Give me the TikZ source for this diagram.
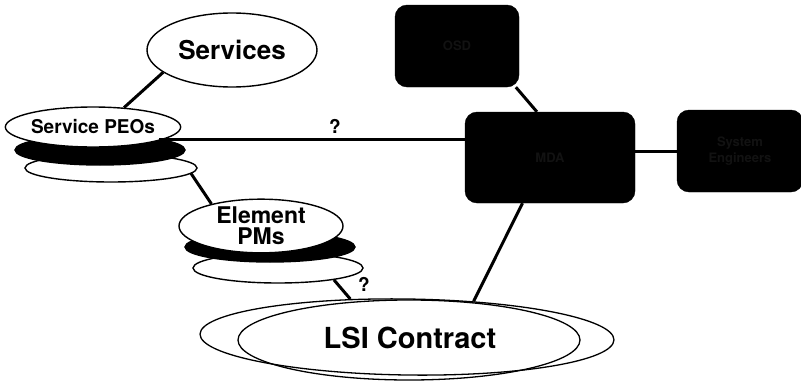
\documentclass[tikz,border=0pt]{standalone}
\usepackage{fontspec}
\setmainfont{TeX Gyre Heros}
\usetikzlibrary{shapes.geometric}

\tikzset{
  oval/.style={ellipse, draw, line width=1.4pt, fill=white, inner sep=0pt,
               font=\bfseries, align=center},
  darkoval/.style={ellipse, draw, line width=1.4pt, fill=black, inner sep=0pt},
  hollow/.style={ellipse, draw, line width=1.3pt, inner sep=0pt},
  darkbox/.style={rectangle, rounded corners=12pt, fill=black, draw=black,
                  text=black!93, font=\bfseries\fontsize{13}{16}\selectfont,
                  align=center},
  link/.style={line width=3pt},
  qmark/.style={font=\bfseries\fontsize{19}{19}\selectfont, inner sep=0pt}
}

\begin{document}
\begin{tikzpicture}[x=1pt,y=-1pt]
  \useasboundingbox (0,0) rectangle (801,383);

  % connector that runs under the PEO stack
  \coordinate (peoexit) at (159,139.5);

  % top-left oval
  \node[oval, minimum width=170pt, minimum height=74pt,
        font=\bfseries\fontsize{26}{28}\selectfont] (services) at (232,50) {Services};

  % stacked ovals for the service PEOs
  \node[oval, minimum width=172pt, minimum height=28pt] (peolow) at (111,168) {};
  \node[darkoval, minimum width=170pt, minimum height=30pt] (peomid) at (100,150) {};
  \node[oval, minimum width=170pt, minimum height=40pt,
        font=\bfseries\fontsize{19}{20}\selectfont] (peo) at (93,127)
        {\raisebox{-6pt}{Service PEOs}};

  % stacked ovals for the element PMs
  \node[oval, minimum width=170pt, minimum height=30pt] (pmlow) at (278,268) {};
  \node[darkoval, minimum width=170pt, minimum height=30pt] (pmmid) at (270,247) {};
  \node[oval, minimum width=164pt, minimum height=52pt,
        font=\bfseries\fontsize{23}{27}\selectfont] (pm) at (261,226)
        {\raisebox{-2pt}{\shortstack{Element\\[1pt]PMs}}};

  % contract ovals
  \node[hollow, minimum width=414pt, minimum height=76pt, rotate=-0.8] (lsiout) at (407,337) {};
  \node[hollow, minimum width=342pt, minimum height=80pt] (lsiin) at (409,340) {};
  \node[font=\bfseries\fontsize{29}{30}\selectfont] (lsitext) at (410,338) {LSI Contract};

  % dark rounded boxes
  \node[darkbox, minimum width=124pt, minimum height=82pt] (top) at (457,46) {OSD};
  \node[darkbox, minimum width=170pt, minimum height=91pt] (hub) at (550,157.5) {MDA};
  \node[darkbox, minimum width=126pt, minimum height=82pt] (sys) at (740,151) {System\\Engineers};

  % connectors
  \draw[link] (services.198) -- (peo.32);
  \draw[link] (peoexit) -- (peoexit -| hub.west);
  \draw[link] (peolow.-4) -- (pm.156);
  \draw[link] (pmlow.-12) -- (lsiout.147);
  \draw[link] (hub.239) -- (lsiout.29);
  \draw[link] (top.-35.6) -- (hub.106);
  \draw[link] (sys.west -| hub.east) -- (sys.west);

  % open questions
  \node[qmark] (q1) at (335,126) {?};
  \node[qmark] (q2) at (364,284) {?};
\end{tikzpicture}
\end{document}
